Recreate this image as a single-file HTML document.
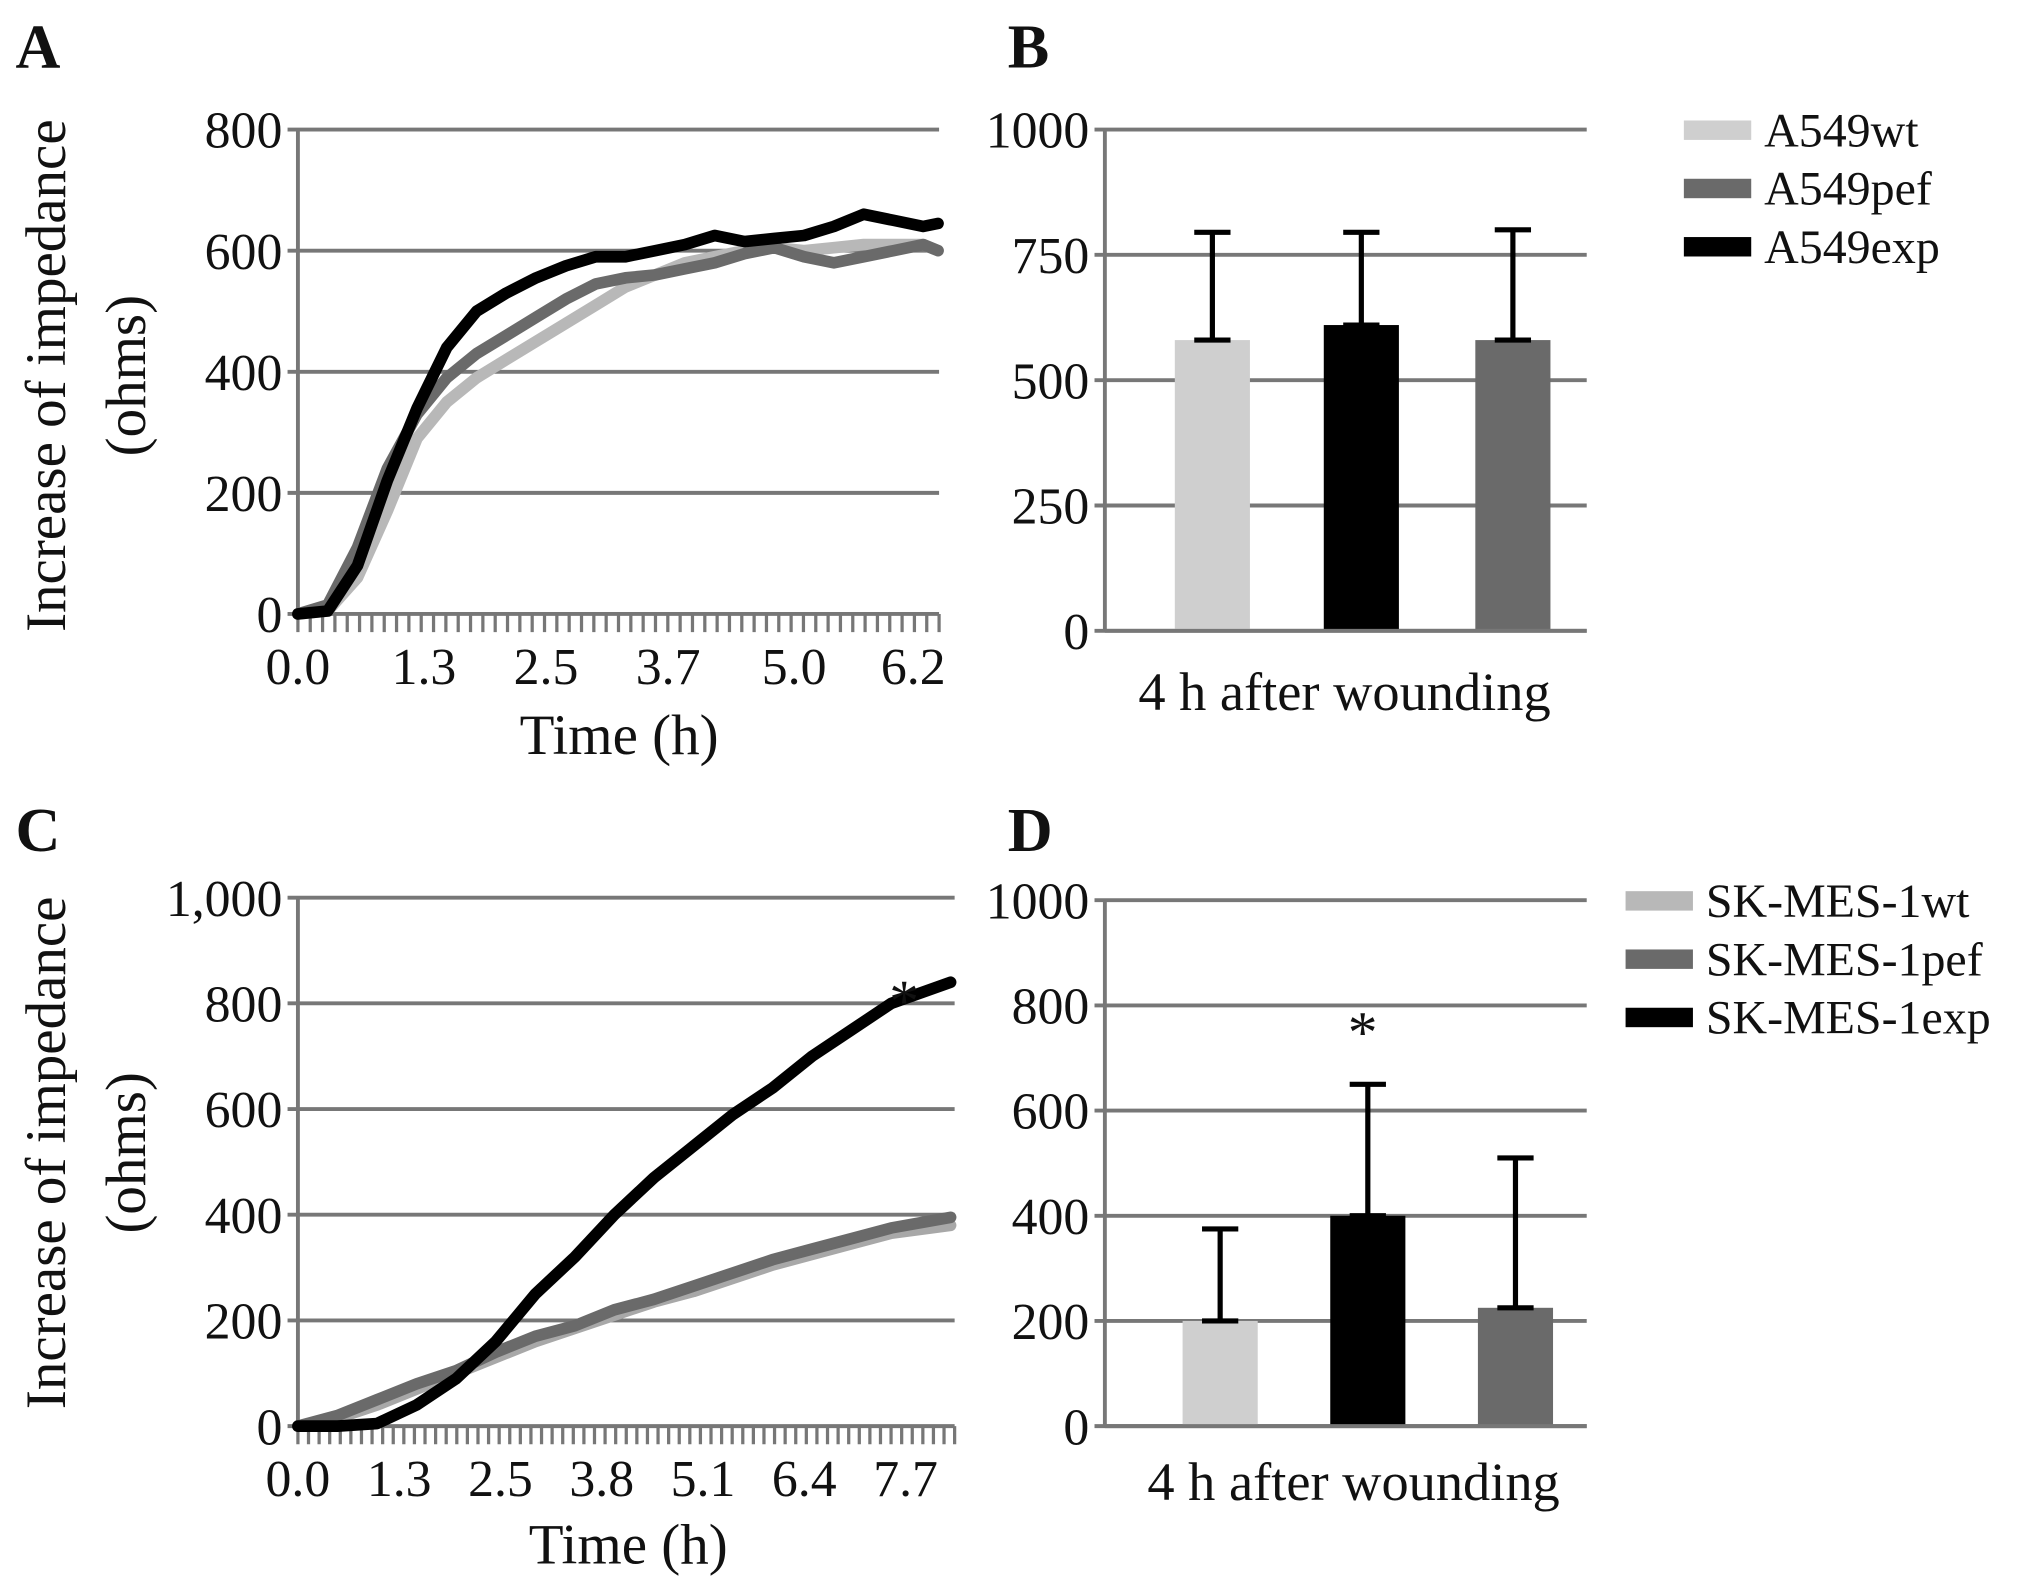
<!DOCTYPE html>
<html><head><meta charset="utf-8"><style>
body{margin:0;background:#fff}
svg{display:block}
text{font-family:"Liberation Serif",serif;fill:#111}
</style></head><body>
<svg id="fig" width="2031" height="1590" viewBox="0 0 1568 1227.5" xmlns="http://www.w3.org/2000/svg"></svg>
<script>
// ---- Panel A data ----
const aTimesWt=[0,0.3,0.6,0.9,1.2,1.5,1.8,2.1,2.4,2.7,3.0,3.3,3.6,3.9,4.2,4.5,4.8,5.1,5.4,5.7,6.0,6.3,6.45];
const aWt=[0,5,60,170,290,350,390,420,450,480,510,540,560,580,590,600,605,600,605,610,610,610,600];
const aPef=[0,15,110,240,330,390,430,460,490,520,545,555,560,570,580,595,605,590,580,590,600,610,600];
const aExp=[0,5,80,220,340,440,500,530,555,575,590,590,600,610,625,615,620,625,640,660,650,640,645];
const aTickLabels=["0.0","1.3","2.5","3.7","5.0","6.2"];
const aTickVals=[0,1.27,2.5,3.73,5.0,6.2];
const aY=[0,200,400,600,800];
// ---- Panel B data ----
const bCats=["A549wt","A549exp","A549pef"];
const bVals=[580,610,580];
const bErr=[795,795,800];
const bY=[0,250,500,750,1000];
// ---- Panel C data ----
const cTimes=[0,0.5,1,1.5,2,2.5,3,3.5,4,4.5,5,5.5,6,6.5,7,7.5,8.25];
const cWt=[0,15,40,70,100,130,160,185,210,235,255,280,305,325,345,365,380];
const cPef=[0,20,50,80,105,140,170,190,220,240,265,290,315,335,355,375,395];
const cExp=[0,0,5,40,90,160,250,320,400,470,530,590,640,700,750,800,840];
const cTickLabels=["0.0","1.3","2.5","3.8","5.1","6.4","7.7"];
const cTickVals=[0,1.28,2.56,3.84,5.12,6.4,7.68];
const cY=[0,200,400,600,800,1000];
// ---- Panel D data ----
const dCats=["SK-MES-1wt","SK-MES-1exp","SK-MES-1pef"];
const dVals=[200,400,225];
const dErr=[375,650,510];
const dY=[0,200,400,600,800,1000];

const NS="http://www.w3.org/2000/svg";
const svg=document.getElementById('fig');
function el(tag,attrs,parent){const e=document.createElementNS(NS,tag);for(const k in attrs)e.setAttribute(k,attrs[k]);(parent||svg).appendChild(e);return e;}
function txt(s,attrs,name){const t=el('text',attrs);t.textContent=s;


return t;}
const LIGHT="#b8b8b8",MID="#6a6a6a",DARK="#000";

function yAxis(g,ticks,sy,x0,x1,fmt,name){
  ticks.forEach(v=>{
    const y=sy(v);
    const l=el('line',{x1:x0-8,x2:x1,y1:y,y2:y,stroke:"#777","stroke-width":3},g);
    
    
    txt(fmt(v),{x:x0-12,y:y+14,"font-size":40,"text-anchor":"end"},name+'-tick-label');
  });
  const ax=el('line',{x1:x0,x2:x0,y1:sy(ticks[ticks.length-1]),y2:sy(0),stroke:"#777","stroke-width":3},g);
  
  
}
function linePanel(name,sx,sy,x0,x1,tmax,nTicks,times,series,yTicks,fmt,tl,tv){
  const g=el('g',{});
  
  
  yAxis(g,yTicks,sy,x0,x1,fmt,name);
  for(let i=0;i<=nTicks;i++){const x=x0+(x1-x0)*i/nTicks;
    const t=el('line',{x1:x,x2:x,y1:sy(0),y2:sy(0)+14,stroke:"#777","stroke-width":2.5},g);
    
    }
  tl.forEach((s,i)=>txt(s,{x:sx(tv[i]),y:sy(0)+54,"font-size":40,"text-anchor":"middle"},name+'-x-tick-label'));
  series.forEach(s=>{
    const d=s.t.map((t,i)=>(i?'L':'M')+sx(t).toFixed(1)+','+sy(s.v[i]).toFixed(1)).join('');
    const p=el('path',{d:d,fill:"none",stroke:s.c,"stroke-width":9,"stroke-linejoin":"round","stroke-linecap":"round"},g);
    
    
  });
}
function barPanel(name,x0,x1,sy,yTicks,cats,vals,errs,colors,centers){
  const g=el('g',{});
  
  
  yAxis(g,yTicks,sy,x0,x1,v=>String(v),name);
  cats.forEach((c,i)=>{
    const cx=centers[i];
    const e1=el('line',{x1:cx,x2:cx,y1:sy(errs[i]),y2:sy(vals[i]),stroke:"#000","stroke-width":4},g);
    
    
    const e2=el('line',{x1:cx-14,x2:cx+14,y1:sy(errs[i]),y2:sy(errs[i]),stroke:"#000","stroke-width":4},g);
    
    
    const r=el('rect',{x:cx-29,width:58,y:sy(vals[i]),height:sy(0)-sy(vals[i]),fill:colors[i]},g);
    
    
    const e3=el('line',{x1:cx-14,x2:cx+14,y1:sy(vals[i]),y2:sy(vals[i]),stroke:"#000","stroke-width":4},g);
    
    
  });
}
function legend(name,x,y0,items){
  items.forEach((it,i)=>{
    const y=y0+i*45;
    const r=el('rect',{x:x,y:y-7,width:52,height:15,fill:it.c});
    
    
    txt(it.n,{x:x+62,y:y+13,"font-size":37},name+'-label');
  });
}

// Panel A
{const x0=230,x1=725,tmax=6.46;const sx=t=>x0+t/tmax*(x1-x0);const sy=v=>474-v/800*374;
linePanel('panel-a',sx,sy,x0,x1,tmax,52,null,[
 {n:'line-a549wt',t:aTimesWt,v:aWt,c:LIGHT},{n:'line-a549pef',t:aTimesWt,v:aPef,c:MID},{n:'line-a549exp',t:aTimesWt,v:aExp,c:DARK}],aY,v=>String(v),aTickLabels,aTickVals);}
// Panel B
{const sy=v=>487-v/1000*387;
barPanel('panel-b',853,1225,sy,bY,bCats,bVals,bErr,["#cfcfcf","#000","#6a6a6a"],[936,1051,1168]);
const a=el('line',{x1:853,x2:1225,y1:487,y2:487,stroke:"#777","stroke-width":3});

txt("4 h after wounding",{x:1038,y:548,"font-size":42,"text-anchor":"middle"},'panel-b-x-label');
legend('legend-b',1300,100,[{n:"A549wt",c:"#cfcfcf"},{n:"A549pef",c:MID},{n:"A549exp",c:DARK}]);}
// Panel C
{const x0=230,x1=737,tmax=8.3;const sx=t=>x0+t/tmax*(x1-x0);const sy=v=>1101-v/1000*408;
linePanel('panel-c',sx,sy,x0,x1,tmax,62,null,[
 {n:'line-skmes-wt',t:cTimes,v:cWt,c:"#a8a8a8"},{n:'line-skmes-pef',t:cTimes,v:cPef,c:MID},{n:'line-skmes-exp',t:cTimes,v:cExp,c:DARK}],cY,v=>v===1000?"1,000":String(v),cTickLabels,cTickVals);
txt("*",{x:698,y:788,"font-size":46,"text-anchor":"middle"},'significance-star-c');}
// Panel D
{const sy=v=>1101-v/1000*406;
barPanel('panel-d',853,1225,sy,dY,dCats,dVals,dErr,["#cfcfcf","#000","#6a6a6a"],[942,1056,1170]);
const a=el('line',{x1:853,x2:1225,y1:1101,y2:1101,stroke:"#777","stroke-width":3});

txt("4 h after wounding",{x:1045,y:1158,"font-size":42,"text-anchor":"middle"},'panel-d-x-label');
txt("*",{x:1052,y:812,"font-size":46,"text-anchor":"middle"},'significance-star-d');
legend('legend-d',1255,695,[{n:"SK-MES-1wt",c:"#b8b8b8"},{n:"SK-MES-1pef",c:MID},{n:"SK-MES-1exp",c:DARK}]);}

// Titles and letters
txt("A",{x:12,y:52,"font-size":48,"font-weight":"bold"},'panel-letter-a');
txt("B",{x:778,y:52,"font-size":48,"font-weight":"bold"},'panel-letter-b');
txt("C",{x:12,y:657,"font-size":48,"font-weight":"bold"},'panel-letter-c');
txt("D",{x:778,y:657,"font-size":48,"font-weight":"bold"},'panel-letter-d');
txt("Time (h)",{x:478,y:582,"font-size":44,"text-anchor":"middle"},'panel-a-x-title');
txt("Time (h)",{x:485,y:1207,"font-size":44,"text-anchor":"middle"},'panel-c-x-title');
[[290,'panel-a-y-title'],[890,'panel-c-y-title']].forEach(([cy,n])=>{
 txt("Increase of impedance",{x:0,y:0,"font-size":44,"text-anchor":"middle",transform:`translate(50,${cy}) rotate(-90)`},n);
 txt("(ohms)",{x:0,y:0,"font-size":44,"text-anchor":"middle",transform:`translate(112,${cy}) rotate(-90)`},n+'-units');
});
</script>
</body></html>
